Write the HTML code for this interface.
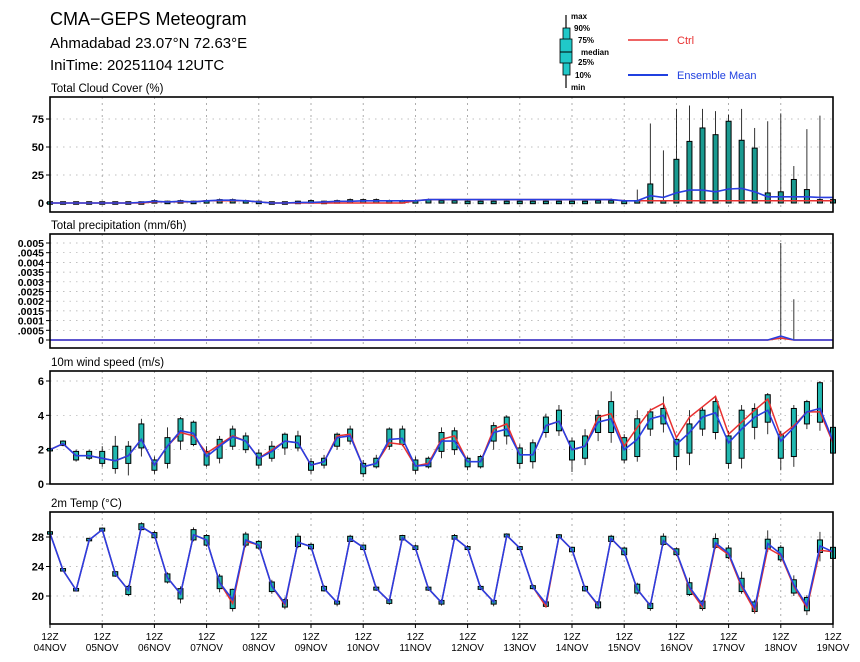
<!DOCTYPE html>
<html><head><meta charset="utf-8"><style>
body{margin:0;background:#fff;}
svg{display:block;font-family:"Liberation Sans",sans-serif;}
</style></head><body>
<svg id="chart" width="860" height="662" viewBox="0 0 860 662" xmlns="http://www.w3.org/2000/svg">
<text x="50" y="25" font-size="18" fill="#000">CMA−GEPS Meteogram</text>
<text x="50" y="48" font-size="15" fill="#000">Ahmadabad 23.07°N 72.63°E</text>
<text x="50" y="70" font-size="15" fill="#000">IniTime: 20251104 12UTC</text>
<g font-size="8" font-weight="bold">
<line x1="566" y1="15" x2="566" y2="88" stroke="#000" stroke-width="1.2"/>
<rect x="563" y="28" width="7" height="47" fill="#20c8c8" stroke="#000" stroke-width="0.8"/>
<rect x="560" y="39" width="12" height="24" fill="#20c8c8" stroke="#000" stroke-width="0.8"/>
<line x1="560" y1="52" x2="572" y2="52" stroke="#000"/>
<text x="571" y="19">max</text><text x="574" y="31">90%</text><text x="578" y="43">75%</text><text x="581" y="55">median</text><text x="578" y="65">25%</text><text x="575" y="78">10%</text><text x="571" y="90">min</text>
<line x1="628" y1="40" x2="668" y2="40" stroke="#e83030" stroke-width="1.5"/>
<text x="677" y="44" font-size="11" font-weight="normal" fill="#e83030">Ctrl</text>
<line x1="628" y1="75" x2="668" y2="75" stroke="#2040e0" stroke-width="2"/>
<text x="677" y="79" font-size="11" font-weight="normal" fill="#2040e0">Ensemble Mean</text>
</g>
<g id="plots"></g>
</svg>
<script>
const days = ["04NOV","05NOV","06NOV","07NOV","08NOV","09NOV","10NOV","11NOV","12NOV","13NOV","14NOV","15NOV","16NOV","17NOV","18NOV","19NOV"];
const cloudTicks = [0,25,50,75];
const precipTicks = [0,0.0005,0.001,0.0015,0.002,0.0025,0.003,0.0035,0.004,0.0045,0.005];
const precipTickLabels = ["0",".0005","0.001",".0015","0.002",".0025","0.003",".0035","0.004",".0045","0.005"];
const windTicks = [0,2,4,6];
const tempTicks = [20,24,28];

const cloudMean = [0,0,0,0,0,0,0,0.5,1.5,1,1.5,1,2,2.5,2.5,2,1,0,0,0.5,0.5,1,1.5,1.5,2,2,2,2,2,3,3,3,3,3,3,3,3,3,3,3,3,3,3,3,2,2,6.5,5,9,11.5,11.5,10,12.5,13,10,5.5,5.5,5.5,5.5,5,5];
const cloudCtrl = [0,0,0,0,0,0,0,0,1,1,1,1,2,2,2,2,1,0,0,0,0,0,0,0,0,0,0,0,2,3,3,3,3,3,3,3,3,3,3,3,3,3,3,3,2,2,2,2,2,2,2,2,2,2,2,2,2,2,2,2,2];
const cloudBoxHi = [0,0,0,0,0,0,0,0,2,1,2,1,2,3,3,2,1,0,0,1,2,1,2,3,3,3,2,2,2,3,2,2,1,1,1,1,1,1,1,1,1,1,2,2,1,2,17,2,39,55,67,61,73,56,49,9,10,21,12,3,3];
const cloudMax = [0,0,0,0,0,0,0,1,3,2,3,2,3,4,4,3,2,1,1,2,3,2,3,4,4,4,3,3,3,4,3,3,2,2,2,2,2,2,2,2,2,2,3,4,3,12,71,47,84,87,84,82,79,84,67,73,80,33,66,78,4];

const precipMean = [0,0,0,0,0,0,0,0,0,0,0,0,0,0,0,0,0,0,0,0,0,0,0,0,0,0,0,0,0,0,0,0,0,0,0,0,0,0,0,0,0,0,0,0,0,0,0,0,0,0,0,0,0,0,0,0,0.0002,0,0,0,0];
const precipCtrl = [0,0,0,0,0,0,0,0,0,0,0,0,0,0,0,0,0,0,0,0,0,0,0,0,0,0,0,0,0,0,0,0,0,0,0,0,0,0,0,0,0,0,0,0,0,0,0,0,0,0,0,0,0,0,0,0,0.0001,0,0,0,0];
const precipMax = [0,0,0,0,0,0,0,0,0,0,0,0,0,0,0,0,0,0,0,0,0,0,0,0,0,0,0,0,0,0,0,0,0,0,0,0,0,0,0,0,0,0,0,0,0,0,0,0,0,0,0,0,0,0,0,0,0.005,0.0021,0,0,0];

const windMean = [2.0,2.35,1.65,1.65,1.5,1.35,1.65,2.6,1.1,2.2,3.1,2.95,1.6,2.2,2.75,2.5,1.5,1.9,2.5,2.4,1.1,1.3,2.7,2.8,1.0,1.2,2.6,2.65,1.05,1.1,2.5,2.5,1.3,1.3,3.0,3.2,1.7,1.7,3.4,3.65,2.0,2.2,3.6,3.8,2.0,2.6,3.8,4.0,2.3,3.0,3.9,4.15,2.4,3.2,3.9,4.3,2.5,3.3,4.2,4.4,2.5];
const windCtrl = [2.0,2.35,1.65,1.65,1.5,1.35,1.65,2.6,1.1,2.2,3.0,2.8,1.8,2.3,2.8,2.5,1.5,2.0,2.5,2.4,1.1,1.3,2.8,2.9,1.0,1.2,2.4,2.3,1.05,1.2,2.6,2.8,1.3,1.3,3.2,3.5,1.7,1.7,3.4,3.65,2.0,2.2,3.9,4.1,2.2,3.3,4.3,4.7,2.7,3.9,4.5,5.1,2.9,3.6,4.3,4.95,2.8,3.4,4.2,4.2,2.4];
const windBoxLo = [2.0,2.25,1.4,1.5,1.2,0.9,1.2,2.1,0.8,1.2,2.5,2.3,1.1,1.5,2.2,2.0,1.1,1.5,2.1,2.1,0.8,1.1,2.2,2.5,0.6,1.0,2.2,2.3,0.8,1.0,1.9,2.0,1.0,1.0,2.5,2.8,1.2,1.3,3.0,3.1,1.4,1.5,3.0,3.0,1.4,1.6,3.2,3.5,1.6,1.8,3.2,3.0,1.2,1.5,3.3,3.6,1.5,1.6,3.5,3.6,1.8];
const windBoxHi = [2.0,2.5,1.9,1.9,1.9,2.2,2.2,3.5,1.4,2.7,3.8,3.6,1.9,2.6,3.2,2.8,1.8,2.2,2.9,2.8,1.3,1.5,2.9,3.2,1.2,1.5,3.2,3.2,1.4,1.5,3.0,3.1,1.5,1.6,3.4,3.9,2.1,2.4,3.9,4.3,2.5,2.8,4.0,4.8,2.7,3.8,4.2,4.4,2.6,3.5,4.3,4.8,2.8,4.3,4.4,5.2,2.9,4.4,4.8,5.9,3.3];
const windMin = [2.0,2.2,1.3,1.4,1.0,0.6,0.5,1.6,0.6,0.9,2.0,2.2,1.0,1.2,2.0,1.8,0.9,1.3,1.7,1.9,0.6,0.9,2.0,2.3,0.4,0.9,2.0,2.2,0.6,0.9,1.5,1.7,0.8,0.9,2.0,2.3,0.9,0.9,2.7,2.8,0.7,1.1,2.5,2.4,1.2,1.3,2.8,3.0,0.8,1.1,2.8,2.6,0.9,0.9,2.6,2.9,0.8,1.0,3.2,3.1,1.6];
const windMax = [2.0,2.55,2.0,2.0,2.2,2.8,2.5,3.8,1.6,3.3,3.9,3.7,2.2,2.8,3.4,3.0,2.0,2.5,3.0,3.1,1.5,1.7,3.0,3.4,1.4,1.7,3.3,3.4,1.6,1.6,3.3,3.3,1.6,1.7,3.6,4.0,2.3,2.6,4.1,4.6,2.7,3.2,4.3,5.4,2.9,4.3,4.4,5.1,2.8,4.3,4.5,5.1,3.1,4.6,4.7,5.3,3.1,4.6,4.9,6.0,3.3];

const tempMean = [28.5,23.5,20.8,27.6,29.0,23.0,20.8,29.4,28.3,22.5,20.3,28.3,27.6,21.8,19.5,27.6,26.9,21.3,19.0,27.3,26.7,21.0,19.1,27.8,26.6,21.0,19.3,27.9,26.5,21.0,19.1,27.9,26.5,21.1,19.2,28.2,26.5,21.2,19.0,28.1,26.3,21.0,18.8,27.8,26.0,20.9,18.7,27.5,26.0,21.2,18.8,27.2,25.8,21.5,18.4,27.1,25.7,21.5,18.7,26.8,26.0];
const tempCtrl = [28.5,23.5,20.8,27.6,29.0,23.0,20.8,29.4,28.3,22.5,20.3,28.3,27.6,21.8,19.0,27.4,26.9,21.3,18.8,27.3,26.7,21.0,19.1,27.8,26.6,21.0,19.3,27.9,26.5,21.0,19.1,27.9,26.5,21.1,19.2,28.2,26.5,21.2,18.6,28.1,26.3,21.0,18.7,27.8,26.0,20.9,18.7,27.5,25.9,21.0,18.5,26.9,25.6,21.2,18.0,26.5,25.5,21.3,18.4,26.2,26.0];
const tempBoxLo = [28.5,23.5,20.8,27.6,28.8,22.7,20.2,29.0,27.9,21.9,19.6,27.6,26.9,21.0,18.3,26.9,26.5,20.6,18.5,26.7,26.4,20.7,18.9,27.4,26.3,20.8,19.0,27.6,26.3,20.8,18.9,27.7,26.3,20.9,18.9,28.0,26.3,21.0,18.6,27.9,26.0,20.7,18.4,27.4,25.6,20.4,18.3,27.0,25.6,20.2,18.3,26.6,25.2,20.6,17.9,26.4,24.9,20.4,18.0,25.9,25.1];
const tempBoxHi = [28.6,23.6,20.9,27.7,29.2,23.3,21.3,29.8,28.6,23.0,21.0,29.0,28.2,22.7,20.9,28.4,27.4,21.9,19.5,28.1,27.0,21.3,19.3,28.1,26.9,21.2,19.5,28.2,26.8,21.2,19.4,28.2,26.7,21.3,19.4,28.4,26.7,21.4,19.2,28.3,26.6,21.3,19.2,28.1,26.5,21.6,19.0,28.1,26.4,21.8,19.3,27.8,26.5,22.4,19.2,27.7,26.6,22.2,19.8,27.6,26.6];
const tempMin = [28.5,23.5,20.8,27.6,28.7,22.6,20.0,28.9,27.8,21.7,19.0,27.4,26.7,20.5,17.9,26.6,26.3,20.3,18.2,26.5,26.2,20.6,18.6,27.3,26.2,20.7,18.8,27.5,26.2,20.7,18.7,27.6,26.2,20.8,18.6,27.9,26.2,20.9,18.4,27.8,25.9,20.6,18.2,27.3,25.5,20.2,18.0,26.8,25.4,20.0,18.0,26.4,25.0,20.3,17.6,26.0,24.6,20.0,17.4,24.7,24.7];
const tempMax = [28.6,23.6,20.9,27.7,29.3,23.4,21.5,30.0,28.8,23.2,21.3,29.3,28.4,23.0,21.0,28.7,27.6,22.2,19.8,28.5,27.2,21.5,19.5,28.3,27.0,21.4,19.7,28.3,27.0,21.3,19.6,28.4,26.9,21.5,19.5,28.5,26.8,21.6,19.3,28.4,26.7,21.4,19.3,28.3,26.7,21.8,19.2,28.5,26.6,22.5,19.5,28.5,26.9,23.3,19.5,28.9,26.9,22.8,20.1,28.7,26.9];

const NS = "http://www.w3.org/2000/svg";
const X0 = 50, X1 = 833, NT = 60;
function xAt(t){ return X0 + (X1 - X0) * t / NT; }
function mk(tag, attrs, parent){ const e = document.createElementNS(NS, tag); for (const k in attrs) e.setAttribute(k, attrs[k]); parent.appendChild(e); return e; }
const root = document.getElementById('plots');

function panel(cfg){
  const g = mk('g', {}, root);
  
  
  const y = v => cfg.py0 + (v - cfg.v0) * (cfg.py1 - cfg.py0) / (cfg.v1 - cfg.v0);
  const title = mk('text', {x: 51, y: cfg.top - 5, 'font-size': 11.5, fill: '#000'}, g);
  
  
  title.textContent = cfg.title;
  cfg.ticks.forEach((tv, i) => {
    const yy = y(tv);
    const gl = mk('line', {x1: X0, x2: X1, y1: yy, y2: yy, stroke: '#aaa', 'stroke-width': 0.7, 'stroke-dasharray': '1.5 5'}, g);
    
    
    mk('line', {x1: X0 - 4, x2: X0, y1: yy, y2: yy, stroke: '#000'}, g);
    const lb = mk('text', {x: X0 - 6, y: yy + 4, 'font-size': cfg.tickFont || 11, 'font-weight': 'bold', 'text-anchor': 'end', fill: '#000'}, g);
    
    
    lb.textContent = cfg.tickLabels ? cfg.tickLabels[i] : String(tv);
  });
  for (let d = 1; d < days.length - 1; d++) {
    const xx = xAt(d * 4);
    const vl = mk('line', {x1: xx, x2: xx, y1: cfg.top, y2: cfg.bottom, stroke: '#999', 'stroke-width': 0.8, 'stroke-dasharray': '2 4'}, g);
    
    
  }
  for (let t = 0; t <= NT; t++) {
    const xx = xAt(t);
    const hi = cfg.max[t], lo = cfg.min ? cfg.min[t] : cfg.v0;
    if (hi - lo > 0) {
      const w = mk('line', {x1: xx, x2: xx, y1: y(lo), y2: y(hi), stroke: '#000', 'stroke-width': 0.8}, g);
      
      
    }
    if (cfg.boxHi) {
      const bl = cfg.boxLo ? cfg.boxLo[t] : cfg.v0;
      const bh = cfg.boxHi[t];
      const h = Math.max(y(bl) - y(bh), 2.5);
      const r = mk('rect', {x: xx - 2.5, y: (y(bl) + y(bh)) / 2 - h / 2, width: 5, height: h, fill: cfg.boxFill, stroke: '#000', 'stroke-width': 1}, g);
      
      
    }
  }
  const line = (arr, col, nm, sw) => {
    const p = mk('polyline', {points: arr.map((v, t) => xAt(t).toFixed(1) + ',' + y(v).toFixed(1)).join(' '), fill: 'none', stroke: col, 'stroke-width': sw}, g);
    
    
  };
  line(cfg.ctrl, '#e83030', 'ctrl-line', 1.5);
  line(cfg.mean, '#2a3ee0', 'mean-line', 1.6);
  const f = mk('rect', {x: X0, y: cfg.top, width: X1 - X0, height: cfg.bottom - cfg.top, fill: 'none', stroke: '#000', 'stroke-width': 1.6}, g);
  
  
}

panel({name: 'cloud', title: 'Total Cloud Cover (%)', top: 97, bottom: 212, v0: 0, v1: 75, py0: 203, py1: 119, ticks: cloudTicks,
  mean: cloudMean, ctrl: cloudCtrl, boxHi: cloudBoxHi, max: cloudMax, boxFill: '#1a9a90'});
panel({name: 'precip', title: 'Total precipitation (mm/6h)', top: 234, bottom: 348, v0: 0, v1: 0.005, py0: 340, py1: 243, ticks: precipTicks, tickLabels: precipTickLabels, tickFont: 10.5,
  mean: precipMean, ctrl: precipCtrl, max: precipMax});
panel({name: 'wind', title: '10m wind speed (m/s)', top: 371, bottom: 484, v0: 0, v1: 6, py0: 484, py1: 381, ticks: windTicks,
  mean: windMean, ctrl: windCtrl, boxLo: windBoxLo, boxHi: windBoxHi, min: windMin, max: windMax, boxFill: '#20b8b0'});
panel({name: 'temp', title: '2m Temp (°C)', top: 512, bottom: 624, v0: 20, v1: 28, py0: 596, py1: 537, ticks: tempTicks,
  mean: tempMean, ctrl: tempCtrl, boxLo: tempBoxLo, boxHi: tempBoxHi, min: tempMin, max: tempMax, boxFill: '#20b8b0'});

days.forEach((d, i) => {
  const xx = xAt(i * 4);
  mk('line', {x1: xx, x2: xx, y1: 624, y2: 628, stroke: '#000'}, root);
  const a = mk('text', {x: xx, y: 640, 'font-size': 10, 'text-anchor': 'middle', fill: '#000'}, root);
  
  
  a.textContent = '12Z';
  const b = mk('text', {x: xx, y: 651, 'font-size': 10, 'text-anchor': 'middle', fill: '#000'}, root);
  
  
  b.textContent = d;
});
</script>
</body></html>
